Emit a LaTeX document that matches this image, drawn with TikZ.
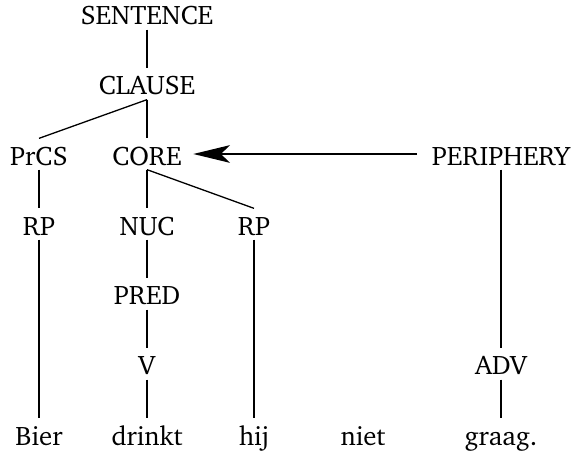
\documentclass[tikz,border=0pt]{standalone}
\usepackage[T1]{fontenc}
\usepackage{charter}
\usepackage{tikz}
\usetikzlibrary{arrows.meta}

\begin{document}
\begin{tikzpicture}[
		x=0.5pt, y=-0.5pt,
		line width=0.65pt,
		every node/.style={font=\fontsize{13.4pt}{16pt}\selectfont, anchor=base,
			text height=11pt, text depth=0pt, inner xsep=0pt, inner ysep=2pt},
		branch/.style={line width=0.65pt},
		link/.style={line width=0.9pt, -{Stealth[length=18.3pt, width=8.8pt, inset=4.5pt]},
			shorten >=5.5pt, shorten <=7pt}
		]

	\useasboundingbox (0, 0) rectangle (575, 455);

	% Top of the tree
	\node (sentence) at (147, 25) {SENTENCE};
	\node (clause) at (147, 95) {CLAUSE};

	% Layers
	\node (prcs) at (39, 165) {PrCS};
	\node (core) at (147, 165) {CORE};
	\node (periphery) at (501, 165) {PERIPHERY};

	% Phrases
	\node (rp1) at (39, 235) {RP};
	\node (nuc) at (147, 235) {NUC};
	\node (rp2) at (254, 235) {RP};
	\node (pred) at (147, 305) {PRED};
	\node (v) at (147, 375) {V};
	\node (adv) at (501, 375) {ADV};

	% Words
	\foreach \x/\name/\word in {39/bier/Bier, 147/drinkt/drinkt, 254/hij/hij, 363/niet/niet, 501/graag/graag.}{
		\node (\name) at (\x, 445) {\word};
	}

	% Branches
	\foreach \a/\b in {sentence/clause, clause/prcs, clause/core, prcs/rp1, core/nuc, core/rp2,
		nuc/pred, pred/v, v/drinkt, rp1/bier, rp2/hij, periphery/adv, adv/graag}{
		\draw[branch] (\a.south) -- (\b.north);
	}

	% Periphery modifies core
	\draw[link] (periphery.west) -- (core.east);

\end{tikzpicture}
\end{document}
